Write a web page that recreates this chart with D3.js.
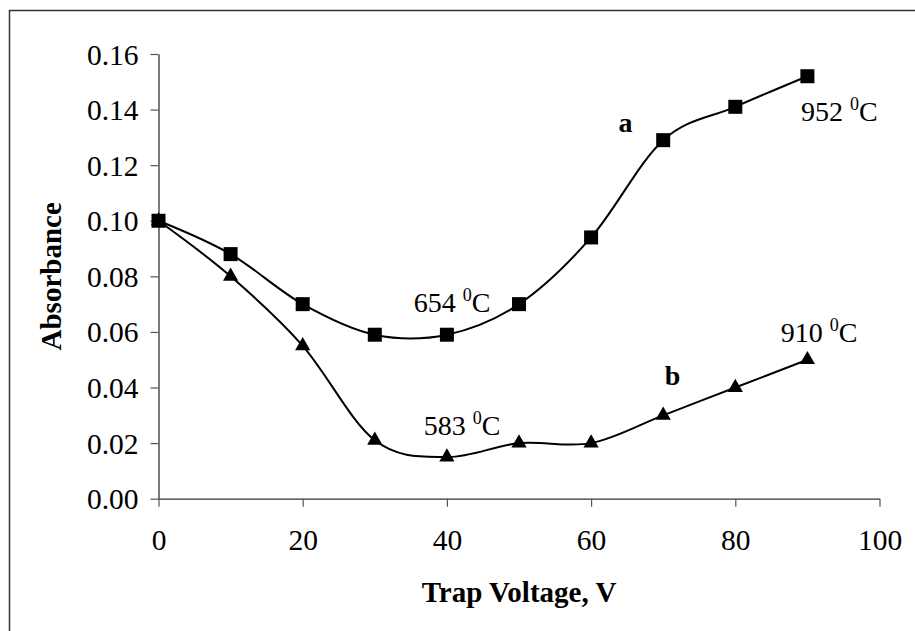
<!DOCTYPE html>
<html>
<head>
<meta charset="utf-8">
<script src="https://cdn.jsdelivr.net/npm/d3@7/dist/d3.min.js"></script>
<style>
  html, body { margin: 0; padding: 0; background: #fff; }
  svg { display: block; font-family: "Liberation Serif", "Times New Roman", serif; }
</style>
</head>
<body>
<svg id="chart" width="915" height="631"></svg>
<script>
// Trap voltage (V) on the x axis
const voltage = [0, 10, 20, 30, 40, 50, 60, 70, 80, 90];
// Absorbance for curve a (squares) and curve b (triangles)
const absorbanceA = [0.100, 0.088, 0.070, 0.059, 0.059, 0.070, 0.094, 0.129, 0.141, 0.152];
const absorbanceB = [0.100, 0.080, 0.055, 0.021, 0.015, 0.020, 0.020, 0.030, 0.040, 0.050];

const xTicks = [0, 20, 40, 60, 80, 100];
const yTicks = [0, 0.02, 0.04, 0.06, 0.08, 0.10, 0.12, 0.14, 0.16];

// Temperature annotations: [voltage, absorbance, text]
const tempNotes = [
  { x: 89.1, y: 0.136, t: "952" },
  { x: 35.4, y: 0.067, t: "654" },
  { x: 36.8, y: 0.023, t: "583" },
  { x: 86.3, y: 0.0565, t: "910" }
];
const curveNames = [
  { x: 63.8, y: 0.132, t: "a" },
  { x: 70.2, y: 0.041, t: "b" }
];

const svg = d3.select("#chart");

const x = d3.scaleLinear().domain([0, 100]).range([158.5, 879.5]);
const y = d3.scaleLinear().domain([0, 0.16]).range([498.7, 54]);

// frame
svg.append("rect")
  .attr("x", 9.5).attr("y", 10.5)
  .attr("width", 1000).attr("height", 1000)
  .attr("fill", "none").attr("stroke", "#333").attr("stroke-width", 1.5);

// axes
const xAxis = svg.append("g")
  .attr("transform", `translate(0,${y(0)})`)
  .call(d3.axisBottom(x).tickValues(xTicks).tickFormat(d3.format("d")).tickSizeInner(8).tickSizeOuter(0));
const yAxis = svg.append("g")
  .attr("transform", `translate(${x(0)},0)`)
  .call(d3.axisLeft(y).tickValues(yTicks).tickFormat(d3.format(".2f")).tickSizeInner(8).tickSizeOuter(0).tickPadding(12));

[xAxis, yAxis].forEach(g => {
  g.select(".domain").attr("stroke", "#333").attr("stroke-width", 1.3);
  g.selectAll(".tick line").attr("stroke", "#555").attr("stroke-width", 1.2);
  g.selectAll(".tick text")
    .attr("fill", "#000")
    .style("font-family", "'Liberation Serif', 'Times New Roman', serif")
    .style("font-size", "29.5px");
});
yAxis.selectAll(".tick text").attr("dy", "0.34em");
xAxis.selectAll(".tick text").attr("y", 51.5).attr("dy", 0);

// axis titles
svg.append("text")
  .attr("x", (x(0) + x(100)) / 2).attr("y", 602)
  .attr("text-anchor", "middle")
  .style("font-size", "29px").style("font-weight", "bold")
  .text("Trap Voltage, V");
svg.append("text")
  .attr("transform", `translate(61,${(y(0) + y(0.16)) / 2}) rotate(-90)`)
  .attr("text-anchor", "middle")
  .style("font-size", "29px").style("font-weight", "bold")
  .text("Absorbance");

// smoothed curves
const line = d3.line()
  .x(d => x(d[0]))
  .y(d => y(d[1]))
  .curve(d3.curveCatmullRom.alpha(0));

const seriesA = voltage.map((v, i) => [v, absorbanceA[i]]);
const seriesB = voltage.map((v, i) => [v, absorbanceB[i]]);

[seriesA, seriesB].forEach(s => {
  svg.append("path")
    .datum(s)
    .attr("d", line)
    .attr("fill", "none")
    .attr("stroke", "#000")
    .attr("stroke-width", 2);
});

// square markers for a
svg.append("g").selectAll("rect")
  .data(seriesA)
  .join("rect")
  .attr("x", d => x(d[0]) - 7)
  .attr("y", d => y(d[1]) - 7)
  .attr("width", 14).attr("height", 14)
  .attr("fill", "#000");

// triangle markers for b
const tri = d3.symbol().type(d3.symbolTriangle).size(100);
svg.append("g").selectAll("path")
  .data(seriesB)
  .join("path")
  .attr("transform", d => `translate(${x(d[0])},${y(d[1])})`)
  .attr("d", tri)
  .attr("fill", "#000");

// temperature annotations with superscript degree zero
tempNotes.forEach(n => {
  const t = svg.append("text")
    .attr("x", x(n.x)).attr("y", y(n.y))
    .style("font-size", "28px");
  t.append("tspan").text(n.t + " ");
  t.append("tspan").attr("dy", -11).style("font-size", "18px").text("0");
  t.append("tspan").attr("dy", 11).text("C");
});

// curve names
curveNames.forEach(n => {
  svg.append("text")
    .attr("x", x(n.x)).attr("y", y(n.y))
    .style("font-size", "28px").style("font-weight", "bold")
    .text(n.t);
});
</script>
</body>
</html>
